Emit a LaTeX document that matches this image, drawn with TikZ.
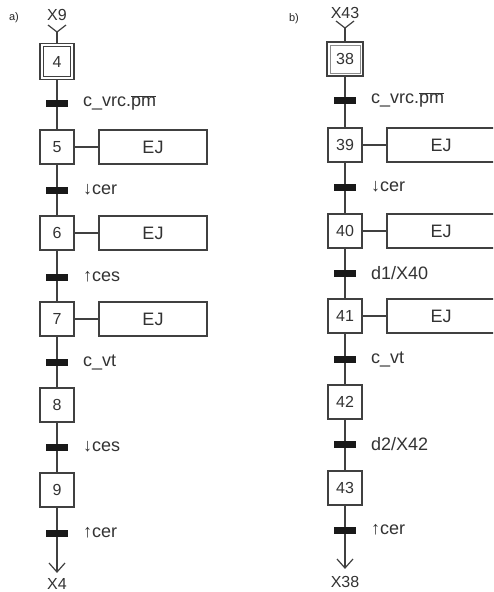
\documentclass[tikz,border=0pt]{standalone}
\usepackage{fontspec}
\setmainfont{Liberation Sans}
\begin{document}
\begin{tikzpicture}[x=1pt,y=-1pt,
  lin/.style={draw=black!75, line width=1.2pt},
  stepbox/.style={draw=black!75, line width=1.2pt, fill=white, minimum width=34pt, minimum height=34pt, inner sep=0pt, font=\fontsize{16}{16}\selectfont, text=black!80},
  actbox/.style={draw=black!75, line width=1.2pt, fill=white, minimum width=108pt, minimum height=34pt, inner sep=0pt, font=\fontsize{18}{18}\selectfont, text=black!80},
  trans/.style={fill=black!90, minimum width=22pt, minimum height=7pt, inner sep=0pt},
  tlabel/.style={anchor=west, inner sep=0pt, font=\fontsize{18}{18}\selectfont, text=black!80},
  ref/.style={inner sep=0pt, font=\fontsize{16}{16}\selectfont, text=black!80},
  tag/.style={inner sep=0pt, font=\fontsize{11}{11}\selectfont, text=black!85}]
\useasboundingbox (0,0) rectangle (493,592);
\clip (0,0) rectangle (493,592);
\fill[white] (0,0) rectangle (493,592);

% ---------- a) ----------
\node[tag] (la) at (14,18) {a)};
\node[ref] (x9) at (57,15) {X9};
\coordinate (in4) at (57,32);
\node[stepbox, minimum height=36pt] (s4) at (57,61.5) {4};
\draw[draw=black!75, line width=1pt] ([shift={(4,4)}]s4.north west) rectangle ([shift={(-4,-4)}]s4.south east);
\node[stepbox] (s5) at (57,147) {5};
\node[stepbox] (s6) at (57,233) {6};
\node[stepbox] (s7) at (57,319) {7};
\node[stepbox] (s8) at (57,405) {8};
\node[stepbox] (s9) at (57,490) {9};
\coordinate (out9) at (57,572);
\node[ref] (x4) at (57,584) {X4};

\node[actbox] (a5) at (153,147) {EJ};
\node[actbox] (a6) at (153,233) {EJ};
\node[actbox] (a7) at (153,319) {EJ};

\draw[lin] ([shift={(-9,-7)}]in4) -- (in4) -- ([shift={(9,-7)}]in4);
\draw[lin] (in4) -- (s4);
\draw[lin] (s4) -- (s5);
\draw[lin] (s5) -- (s6);
\draw[lin] (s6) -- (s7);
\draw[lin] (s7) -- (s8);
\draw[lin] (s8) -- (s9);
\draw[lin] (s9) -- (out9);
\draw[lin] ([shift={(-8,-9)}]out9) -- (out9) -- ([shift={(8,-9)}]out9);
\draw[lin] (s5) -- (a5);
\draw[lin] (s6) -- (a6);
\draw[lin] (s7) -- (a7);

\node[trans] (t1) at (57,103) {};
\node[trans] (t2) at (57,190) {};
\node[trans] (t3) at (57,277) {};
\node[trans] (t4) at (57,362) {};
\node[trans] (t5) at (57,447) {};
\node[trans] (t6) at (57,533) {};
\node[tlabel] (l1) at (83,103) {c\_vrc.$\overline{\hbox{pm}}$};
\node[tlabel] (l2) at (83,190) {↓cer};
\node[tlabel] (l3) at (83,277) {↑ces};
\node[tlabel] (l4) at (83,362) {c\_vt};
\node[tlabel] (l5) at (83,447) {↓ces};
\node[tlabel] (l6) at (83,533) {↑cer};

% ---------- b) ----------
\node[tag] (lb) at (294,19) {b)};
\node[ref] (x43) at (345,13) {X43};
\coordinate (in38) at (345,28);
\node[stepbox, minimum width=36pt] (s38) at (345,59) {38};
\draw[draw=black!45, line width=0.8pt] ([shift={(3.5,3.5)}]s38.north west) rectangle ([shift={(-3.5,-3.5)}]s38.south east);
\node[stepbox] (s39) at (345,145) {39};
\node[stepbox] (s40) at (345,231) {40};
\node[stepbox] (s41) at (345,316) {41};
\node[stepbox] (s42) at (345,402) {42};
\node[stepbox] (s43) at (345,488) {43};
\coordinate (out43) at (345,568);
\node[ref] (x38) at (345,582) {X38};

\node[actbox] (a39) at (441,145) {EJ};
\node[actbox] (a40) at (441,231) {EJ};
\node[actbox] (a41) at (441,316) {EJ};

\draw[lin] ([shift={(-9,-7)}]in38) -- (in38) -- ([shift={(9,-7)}]in38);
\draw[lin] (in38) -- (s38);
\draw[lin] (s38) -- (s39);
\draw[lin] (s39) -- (s40);
\draw[lin] (s40) -- (s41);
\draw[lin] (s41) -- (s42);
\draw[lin] (s42) -- (s43);
\draw[lin] (s43) -- (out43);
\draw[lin] ([shift={(-8,-9)}]out43) -- (out43) -- ([shift={(8,-9)}]out43);
\draw[lin] (s39) -- (a39);
\draw[lin] (s40) -- (a40);
\draw[lin] (s41) -- (a41);

\node[trans] (u1) at (345,100) {};
\node[trans] (u2) at (345,187) {};
\node[trans] (u3) at (345,273) {};
\node[trans] (u4) at (345,359) {};
\node[trans] (u5) at (345,444) {};
\node[trans] (u6) at (345,530) {};
\node[tlabel] (m1) at (371,100) {c\_vrc.$\overline{\hbox{pm}}$};
\node[tlabel] (m2) at (371,187) {↓cer};
\node[tlabel] (m3) at (371,273) {d1/X40};
\node[tlabel] (m4) at (371,359) {c\_vt};
\node[tlabel] (m5) at (371,444) {d2/X42};
\node[tlabel] (m6) at (371,530) {↑cer};
\end{tikzpicture}
\end{document}
